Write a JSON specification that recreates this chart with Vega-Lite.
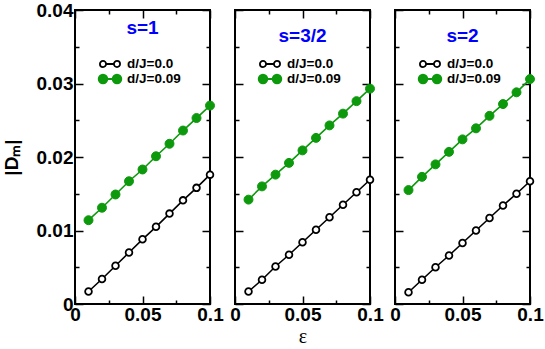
{
  "$schema": "https://vega.github.io/schema/vega-lite/v6.json",
  "padding": {"left": 1, "top": 0, "right": 4, "bottom": 0},
  "bounds": "flush",
  "spacing": 25,
  "datasets": {
    "pts": [
      {"s":"1","d":"d/J=0.0","eps":0.01,"D":0.0017},{"s":"1","d":"d/J=0.0","eps":0.02,"D":0.0034},{"s":"1","d":"d/J=0.0","eps":0.03,"D":0.0052},{"s":"1","d":"d/J=0.0","eps":0.04,"D":0.0070},{"s":"1","d":"d/J=0.0","eps":0.05,"D":0.0088},{"s":"1","d":"d/J=0.0","eps":0.06,"D":0.0105},{"s":"1","d":"d/J=0.0","eps":0.07,"D":0.0123},{"s":"1","d":"d/J=0.0","eps":0.08,"D":0.0141},{"s":"1","d":"d/J=0.0","eps":0.09,"D":0.0158},{"s":"1","d":"d/J=0.0","eps":0.10,"D":0.0176},
      {"s":"1","d":"d/J=0.09","eps":0.01,"D":0.0114},{"s":"1","d":"d/J=0.09","eps":0.02,"D":0.0131},{"s":"1","d":"d/J=0.09","eps":0.03,"D":0.0149},{"s":"1","d":"d/J=0.09","eps":0.04,"D":0.0167},{"s":"1","d":"d/J=0.09","eps":0.05,"D":0.0183},{"s":"1","d":"d/J=0.09","eps":0.06,"D":0.0201},{"s":"1","d":"d/J=0.09","eps":0.07,"D":0.0218},{"s":"1","d":"d/J=0.09","eps":0.08,"D":0.0236},{"s":"1","d":"d/J=0.09","eps":0.09,"D":0.0253},{"s":"1","d":"d/J=0.09","eps":0.10,"D":0.0270},
      {"s":"3/2","d":"d/J=0.0","eps":0.01,"D":0.0017},{"s":"3/2","d":"d/J=0.0","eps":0.02,"D":0.0033},{"s":"3/2","d":"d/J=0.0","eps":0.03,"D":0.0051},{"s":"3/2","d":"d/J=0.0","eps":0.04,"D":0.0067},{"s":"3/2","d":"d/J=0.0","eps":0.05,"D":0.0084},{"s":"3/2","d":"d/J=0.0","eps":0.06,"D":0.0101},{"s":"3/2","d":"d/J=0.0","eps":0.07,"D":0.0118},{"s":"3/2","d":"d/J=0.0","eps":0.08,"D":0.0135},{"s":"3/2","d":"d/J=0.0","eps":0.09,"D":0.0152},{"s":"3/2","d":"d/J=0.0","eps":0.10,"D":0.0169},
      {"s":"3/2","d":"d/J=0.09","eps":0.01,"D":0.0142},{"s":"3/2","d":"d/J=0.09","eps":0.02,"D":0.0160},{"s":"3/2","d":"d/J=0.09","eps":0.03,"D":0.0176},{"s":"3/2","d":"d/J=0.09","eps":0.04,"D":0.0192},{"s":"3/2","d":"d/J=0.09","eps":0.05,"D":0.0209},{"s":"3/2","d":"d/J=0.09","eps":0.06,"D":0.0226},{"s":"3/2","d":"d/J=0.09","eps":0.07,"D":0.0243},{"s":"3/2","d":"d/J=0.09","eps":0.08,"D":0.0259},{"s":"3/2","d":"d/J=0.09","eps":0.09,"D":0.0276},{"s":"3/2","d":"d/J=0.09","eps":0.10,"D":0.0293},
      {"s":"2","d":"d/J=0.0","eps":0.01,"D":0.0016},{"s":"2","d":"d/J=0.0","eps":0.02,"D":0.0033},{"s":"2","d":"d/J=0.0","eps":0.03,"D":0.0050},{"s":"2","d":"d/J=0.0","eps":0.04,"D":0.0066},{"s":"2","d":"d/J=0.0","eps":0.05,"D":0.0083},{"s":"2","d":"d/J=0.0","eps":0.06,"D":0.0100},{"s":"2","d":"d/J=0.0","eps":0.07,"D":0.0117},{"s":"2","d":"d/J=0.0","eps":0.08,"D":0.0134},{"s":"2","d":"d/J=0.0","eps":0.09,"D":0.0150},{"s":"2","d":"d/J=0.0","eps":0.10,"D":0.0167},
      {"s":"2","d":"d/J=0.09","eps":0.01,"D":0.0155},{"s":"2","d":"d/J=0.09","eps":0.02,"D":0.0173},{"s":"2","d":"d/J=0.09","eps":0.03,"D":0.0190},{"s":"2","d":"d/J=0.09","eps":0.04,"D":0.0207},{"s":"2","d":"d/J=0.09","eps":0.05,"D":0.0224},{"s":"2","d":"d/J=0.09","eps":0.06,"D":0.0239},{"s":"2","d":"d/J=0.09","eps":0.07,"D":0.0256},{"s":"2","d":"d/J=0.09","eps":0.08,"D":0.0272},{"s":"2","d":"d/J=0.09","eps":0.09,"D":0.0288},{"s":"2","d":"d/J=0.09","eps":0.10,"D":0.0306}
    ]
  },
  "data": {"name": "pts"},
  "resolve": {"scale": {"stroke": "independent", "fill": "independent", "shape": "independent"}, "legend": {"stroke": "independent", "fill": "independent", "shape": "independent"}},
  "hconcat": [
    {
      "width": 135, "height": 294,
      "title": {"text": "s=1"},
      "transform": [{"filter": "datum.s === '1'"}],
      "layer": [
        {"layer": [
          {"transform": [{"filter": "false"}],
           "mark": {"type": "point", "filled": true},
           "encoding": {
             "x": {"field": "eps", "type": "quantitative", "scale": {"domain": [0, 0.1], "nice": false}, "axis": {"orient": "bottom", "values": [0, 0.05, 0.1], "labelExpr": "datum.value < 0.001 ? '0' : abs(datum.value-0.05) < 0.001 ? '0.05' : '0.1'", "tickSize": 8, "offset": -8, "labelPadding": 1, "title": null}},
             "y": {"field": "D", "type": "quantitative", "scale": {"domain": [0, 0.04], "nice": false}, "axis": {"orient": "left", "values": [0, 0.01, 0.02, 0.03, 0.04], "labelExpr": "datum.value < 0.001 ? '0' : format(datum.value, '.2f')", "tickSize": 8, "offset": -8, "labelPadding": 2, "title": "|Dₘ|", "titleFont": "Liberation Sans", "titleFontSize": 19, "titleFontWeight": "bold", "titlePadding": 15}},
             "stroke": {"field": "d", "type": "nominal", "scale": {"domain": ["d/J=0.0", "d/J=0.09"], "range": ["black", "#0c990c"]}, "legend": {"orient": "none", "legendX": 27, "legendY": 46}},
             "fill": {"field": "d", "type": "nominal", "scale": {"domain": ["d/J=0.0", "d/J=0.09"], "range": ["white", "#0c990c"]}, "legend": {"orient": "none", "legendX": 27, "legendY": 46}},
             "shape": {"field": "d", "type": "nominal", "scale": {"domain": ["d/J=0.0", "d/J=0.09"], "range": ["M -0.56 0 A 0.44 0.44 0 1 1 -1.44 0 A 0.44 0.44 0 1 1 -0.56 0 Z M -0.56 0 L 0.56 0 M 1.44 0 A 0.44 0.44 0 1 1 0.56 0 A 0.44 0.44 0 1 1 1.44 0 Z", "M -0.38 0 A 0.62 0.62 0 1 1 -1.62 0 A 0.62 0.62 0 1 1 -0.38 0 Z M -0.38 0 L 0.38 0 M 1.62 0 A 0.62 0.62 0 1 1 0.38 0 A 0.62 0.62 0 1 1 1.62 0 Z"]}, "legend": {"orient": "none", "legendX": 27, "legendY": 46}}
           }},
          {"mark": {"type": "line", "strokeWidth": 1.6},
           "encoding": {
             "x": {"field": "eps", "type": "quantitative"},
             "y": {"field": "D", "type": "quantitative"},
             "stroke": {"field": "d", "type": "nominal", "scale": {"domain": ["d/J=0.0", "d/J=0.09"], "range": ["black", "#0c990c"]}, "legend": {"orient": "none", "legendX": 27, "legendY": 46}}
           }},
          {"transform": [{"filter": "datum.d === 'd/J=0.0'"}],
           "mark": {"type": "point", "shape": "circle", "filled": true, "fill": "white", "stroke": "black", "strokeWidth": 1.8, "size": 45, "opacity": 1},
           "encoding": {"x": {"field": "eps", "type": "quantitative"}, "y": {"field": "D", "type": "quantitative"}}},
          {"transform": [{"filter": "datum.d === 'd/J=0.09'"}],
           "mark": {"type": "point", "shape": "circle", "filled": true, "fill": "#0c990c", "stroke": "#0c990c", "strokeWidth": 1, "size": 80, "opacity": 1},
           "encoding": {"x": {"field": "eps", "type": "quantitative"}, "y": {"field": "D", "type": "quantitative"}}}
        ]},
        {"mark": {"type": "point", "opacity": 0},
         "encoding": {
           "x": {"field": "eps", "type": "quantitative", "scale": {"domain": [0, 0.1], "nice": false}, "axis": {"orient": "top", "values": [0, 0.05, 0.1], "labels": false, "tickSize": 8, "offset": -8, "title": null}},
           "y": {"field": "D", "type": "quantitative", "scale": {"domain": [0, 0.04], "nice": false}, "axis": {"orient": "right", "values": [0, 0.01, 0.02, 0.03, 0.04], "labels": false, "tickSize": 8, "offset": -8, "title": null}}
         }},
        {"mark": {"type": "point", "opacity": 0},
         "encoding": {
           "x": {"field": "eps", "type": "quantitative", "scale": {"domain": [0, 0.1], "nice": false}, "axis": {"orient": "bottom", "values": [0.025, 0.075], "labels": false, "tickSize": 4, "offset": -4, "title": null}},
           "y": {"field": "D", "type": "quantitative", "scale": {"domain": [0, 0.04], "nice": false}, "axis": {"orient": "left", "values": [0.005, 0.015, 0.025, 0.035], "labels": false, "tickSize": 4, "offset": -4, "title": null}}
         }},
        {"mark": {"type": "point", "opacity": 0},
         "encoding": {
           "x": {"field": "eps", "type": "quantitative", "scale": {"domain": [0, 0.1], "nice": false}, "axis": {"orient": "top", "values": [0.025, 0.075], "labels": false, "tickSize": 4, "offset": -4, "title": null}},
           "y": {"field": "D", "type": "quantitative", "scale": {"domain": [0, 0.04], "nice": false}, "axis": {"orient": "right", "values": [0.005, 0.015, 0.025, 0.035], "labels": false, "tickSize": 4, "offset": -4, "title": null}}
         }}
      ],
      "resolve": {"scale": {"x": "independent", "y": "independent"}}
    },
    {
      "width": 135, "height": 294,
      "title": {"text": "s=3/2"},
      "transform": [{"filter": "datum.s === '3/2'"}],
      "layer": [
        {"layer": [
          {"transform": [{"filter": "false"}],
           "mark": {"type": "point", "filled": true},
           "encoding": {
             "x": {"field": "eps", "type": "quantitative", "scale": {"domain": [0, 0.1], "nice": false}, "axis": {"orient": "bottom", "values": [0, 0.05, 0.1], "labelExpr": "datum.value < 0.001 ? '0' : abs(datum.value-0.05) < 0.001 ? '0.05' : '0.1'", "tickSize": 8, "offset": -8, "labelPadding": 1, "title": "ε", "titleFont": "Liberation Serif", "titleFontSize": 20, "titleFontWeight": "normal", "titlePadding": 2}},
             "y": {"field": "D", "type": "quantitative", "scale": {"domain": [0, 0.04], "nice": false}, "axis": {"orient": "left", "values": [0, 0.01, 0.02, 0.03, 0.04], "labels": false, "tickSize": 8, "offset": -8, "title": null}},
             "stroke": {"field": "d", "type": "nominal", "scale": {"domain": ["d/J=0.0", "d/J=0.09"], "range": ["black", "#0c990c"]}, "legend": {"orient": "none", "legendX": 27, "legendY": 46}},
             "fill": {"field": "d", "type": "nominal", "scale": {"domain": ["d/J=0.0", "d/J=0.09"], "range": ["white", "#0c990c"]}, "legend": {"orient": "none", "legendX": 27, "legendY": 46}},
             "shape": {"field": "d", "type": "nominal", "scale": {"domain": ["d/J=0.0", "d/J=0.09"], "range": ["M -0.56 0 A 0.44 0.44 0 1 1 -1.44 0 A 0.44 0.44 0 1 1 -0.56 0 Z M -0.56 0 L 0.56 0 M 1.44 0 A 0.44 0.44 0 1 1 0.56 0 A 0.44 0.44 0 1 1 1.44 0 Z", "M -0.38 0 A 0.62 0.62 0 1 1 -1.62 0 A 0.62 0.62 0 1 1 -0.38 0 Z M -0.38 0 L 0.38 0 M 1.62 0 A 0.62 0.62 0 1 1 0.38 0 A 0.62 0.62 0 1 1 1.62 0 Z"]}, "legend": {"orient": "none", "legendX": 27, "legendY": 46}}
           }},
          {"mark": {"type": "line", "strokeWidth": 1.6},
           "encoding": {
             "x": {"field": "eps", "type": "quantitative"},
             "y": {"field": "D", "type": "quantitative"},
             "stroke": {"field": "d", "type": "nominal", "scale": {"domain": ["d/J=0.0", "d/J=0.09"], "range": ["black", "#0c990c"]}, "legend": {"orient": "none", "legendX": 27, "legendY": 46}}
           }},
          {"transform": [{"filter": "datum.d === 'd/J=0.0'"}],
           "mark": {"type": "point", "shape": "circle", "filled": true, "fill": "white", "stroke": "black", "strokeWidth": 1.8, "size": 45, "opacity": 1},
           "encoding": {"x": {"field": "eps", "type": "quantitative"}, "y": {"field": "D", "type": "quantitative"}}},
          {"transform": [{"filter": "datum.d === 'd/J=0.09'"}],
           "mark": {"type": "point", "shape": "circle", "filled": true, "fill": "#0c990c", "stroke": "#0c990c", "strokeWidth": 1, "size": 80, "opacity": 1},
           "encoding": {"x": {"field": "eps", "type": "quantitative"}, "y": {"field": "D", "type": "quantitative"}}}
        ]},
        {"mark": {"type": "point", "opacity": 0},
         "encoding": {
           "x": {"field": "eps", "type": "quantitative", "scale": {"domain": [0, 0.1], "nice": false}, "axis": {"orient": "top", "values": [0, 0.05, 0.1], "labels": false, "tickSize": 8, "offset": -8, "title": null}},
           "y": {"field": "D", "type": "quantitative", "scale": {"domain": [0, 0.04], "nice": false}, "axis": {"orient": "right", "values": [0, 0.01, 0.02, 0.03, 0.04], "labels": false, "tickSize": 8, "offset": -8, "title": null}}
         }},
        {"mark": {"type": "point", "opacity": 0},
         "encoding": {
           "x": {"field": "eps", "type": "quantitative", "scale": {"domain": [0, 0.1], "nice": false}, "axis": {"orient": "bottom", "values": [0.025, 0.075], "labels": false, "tickSize": 4, "offset": -4, "title": null}},
           "y": {"field": "D", "type": "quantitative", "scale": {"domain": [0, 0.04], "nice": false}, "axis": {"orient": "left", "values": [0.005, 0.015, 0.025, 0.035], "labels": false, "tickSize": 4, "offset": -4, "title": null}}
         }},
        {"mark": {"type": "point", "opacity": 0},
         "encoding": {
           "x": {"field": "eps", "type": "quantitative", "scale": {"domain": [0, 0.1], "nice": false}, "axis": {"orient": "top", "values": [0.025, 0.075], "labels": false, "tickSize": 4, "offset": -4, "title": null}},
           "y": {"field": "D", "type": "quantitative", "scale": {"domain": [0, 0.04], "nice": false}, "axis": {"orient": "right", "values": [0.005, 0.015, 0.025, 0.035], "labels": false, "tickSize": 4, "offset": -4, "title": null}}
         }}
      ],
      "resolve": {"scale": {"x": "independent", "y": "independent"}}
    },
    {
      "width": 135, "height": 294,
      "title": {"text": "s=2"},
      "transform": [{"filter": "datum.s === '2'"}],
      "layer": [
        {"layer": [
          {"transform": [{"filter": "false"}],
           "mark": {"type": "point", "filled": true},
           "encoding": {
             "x": {"field": "eps", "type": "quantitative", "scale": {"domain": [0, 0.1], "nice": false}, "axis": {"orient": "bottom", "values": [0, 0.05, 0.1], "labelExpr": "datum.value < 0.001 ? '0' : abs(datum.value-0.05) < 0.001 ? '0.05' : '0.1'", "tickSize": 8, "offset": -8, "labelPadding": 1, "title": null}},
             "y": {"field": "D", "type": "quantitative", "scale": {"domain": [0, 0.04], "nice": false}, "axis": {"orient": "left", "values": [0, 0.01, 0.02, 0.03, 0.04], "labels": false, "tickSize": 8, "offset": -8, "title": null}},
             "stroke": {"field": "d", "type": "nominal", "scale": {"domain": ["d/J=0.0", "d/J=0.09"], "range": ["black", "#0c990c"]}, "legend": {"orient": "none", "legendX": 27, "legendY": 46}},
             "fill": {"field": "d", "type": "nominal", "scale": {"domain": ["d/J=0.0", "d/J=0.09"], "range": ["white", "#0c990c"]}, "legend": {"orient": "none", "legendX": 27, "legendY": 46}},
             "shape": {"field": "d", "type": "nominal", "scale": {"domain": ["d/J=0.0", "d/J=0.09"], "range": ["M -0.56 0 A 0.44 0.44 0 1 1 -1.44 0 A 0.44 0.44 0 1 1 -0.56 0 Z M -0.56 0 L 0.56 0 M 1.44 0 A 0.44 0.44 0 1 1 0.56 0 A 0.44 0.44 0 1 1 1.44 0 Z", "M -0.38 0 A 0.62 0.62 0 1 1 -1.62 0 A 0.62 0.62 0 1 1 -0.38 0 Z M -0.38 0 L 0.38 0 M 1.62 0 A 0.62 0.62 0 1 1 0.38 0 A 0.62 0.62 0 1 1 1.62 0 Z"]}, "legend": {"orient": "none", "legendX": 27, "legendY": 46}}
           }},
          {"mark": {"type": "line", "strokeWidth": 1.6},
           "encoding": {
             "x": {"field": "eps", "type": "quantitative"},
             "y": {"field": "D", "type": "quantitative"},
             "stroke": {"field": "d", "type": "nominal", "scale": {"domain": ["d/J=0.0", "d/J=0.09"], "range": ["black", "#0c990c"]}, "legend": {"orient": "none", "legendX": 27, "legendY": 46}}
           }},
          {"transform": [{"filter": "datum.d === 'd/J=0.0'"}],
           "mark": {"type": "point", "shape": "circle", "filled": true, "fill": "white", "stroke": "black", "strokeWidth": 1.8, "size": 45, "opacity": 1},
           "encoding": {"x": {"field": "eps", "type": "quantitative"}, "y": {"field": "D", "type": "quantitative"}}},
          {"transform": [{"filter": "datum.d === 'd/J=0.09'"}],
           "mark": {"type": "point", "shape": "circle", "filled": true, "fill": "#0c990c", "stroke": "#0c990c", "strokeWidth": 1, "size": 80, "opacity": 1},
           "encoding": {"x": {"field": "eps", "type": "quantitative"}, "y": {"field": "D", "type": "quantitative"}}}
        ]},
        {"mark": {"type": "point", "opacity": 0},
         "encoding": {
           "x": {"field": "eps", "type": "quantitative", "scale": {"domain": [0, 0.1], "nice": false}, "axis": {"orient": "top", "values": [0, 0.05, 0.1], "labels": false, "tickSize": 8, "offset": -8, "title": null}},
           "y": {"field": "D", "type": "quantitative", "scale": {"domain": [0, 0.04], "nice": false}, "axis": {"orient": "right", "values": [0, 0.01, 0.02, 0.03, 0.04], "labels": false, "tickSize": 8, "offset": -8, "title": null}}
         }},
        {"mark": {"type": "point", "opacity": 0},
         "encoding": {
           "x": {"field": "eps", "type": "quantitative", "scale": {"domain": [0, 0.1], "nice": false}, "axis": {"orient": "bottom", "values": [0.025, 0.075], "labels": false, "tickSize": 4, "offset": -4, "title": null}},
           "y": {"field": "D", "type": "quantitative", "scale": {"domain": [0, 0.04], "nice": false}, "axis": {"orient": "left", "values": [0.005, 0.015, 0.025, 0.035], "labels": false, "tickSize": 4, "offset": -4, "title": null}}
         }},
        {"mark": {"type": "point", "opacity": 0},
         "encoding": {
           "x": {"field": "eps", "type": "quantitative", "scale": {"domain": [0, 0.1], "nice": false}, "axis": {"orient": "top", "values": [0.025, 0.075], "labels": false, "tickSize": 4, "offset": -4, "title": null}},
           "y": {"field": "D", "type": "quantitative", "scale": {"domain": [0, 0.04], "nice": false}, "axis": {"orient": "right", "values": [0.005, 0.015, 0.025, 0.035], "labels": false, "tickSize": 4, "offset": -4, "title": null}}
         }}
      ],
      "resolve": {"scale": {"x": "independent", "y": "independent"}}
    }
  ],
  "config": {
    "font": "Liberation Sans",
    "background": "white",
    "view": {"stroke": "black", "strokeWidth": 2},
    "title": {"font": "Liberation Sans", "fontSize": 19, "fontWeight": "bold", "color": "#0000ff", "offset": -37, "baseline": "alphabetic", "anchor": "middle"},
    "axis": {"domain": false, "grid": false, "ticks": true, "zindex": 2, "tickColor": "black", "tickOpacity": 1, "tickWidth": 1.5, "labelFont": "Liberation Sans", "labelFontSize": 19, "labelFontWeight": "bold", "labelColor": "black", "labelOverlap": false, "labelFlush": false, "labelBound": false, "titleColor": "black"},
    "legend": {
      "title": null,
      "padding": 0,
      "symbolSize": 196,
      "labelFont": "Liberation Sans",
      "labelFontSize": 13.5,
      "labelFontWeight": "bold",
      "labelColor": "black",
      "labelOffset": 9,
      "rowPadding": -2,
      "symbolOpacity": 1,
      "symbolStrokeWidth": 1.8
    },
    "line": {"strokeWidth": 1.6}
  }
}
